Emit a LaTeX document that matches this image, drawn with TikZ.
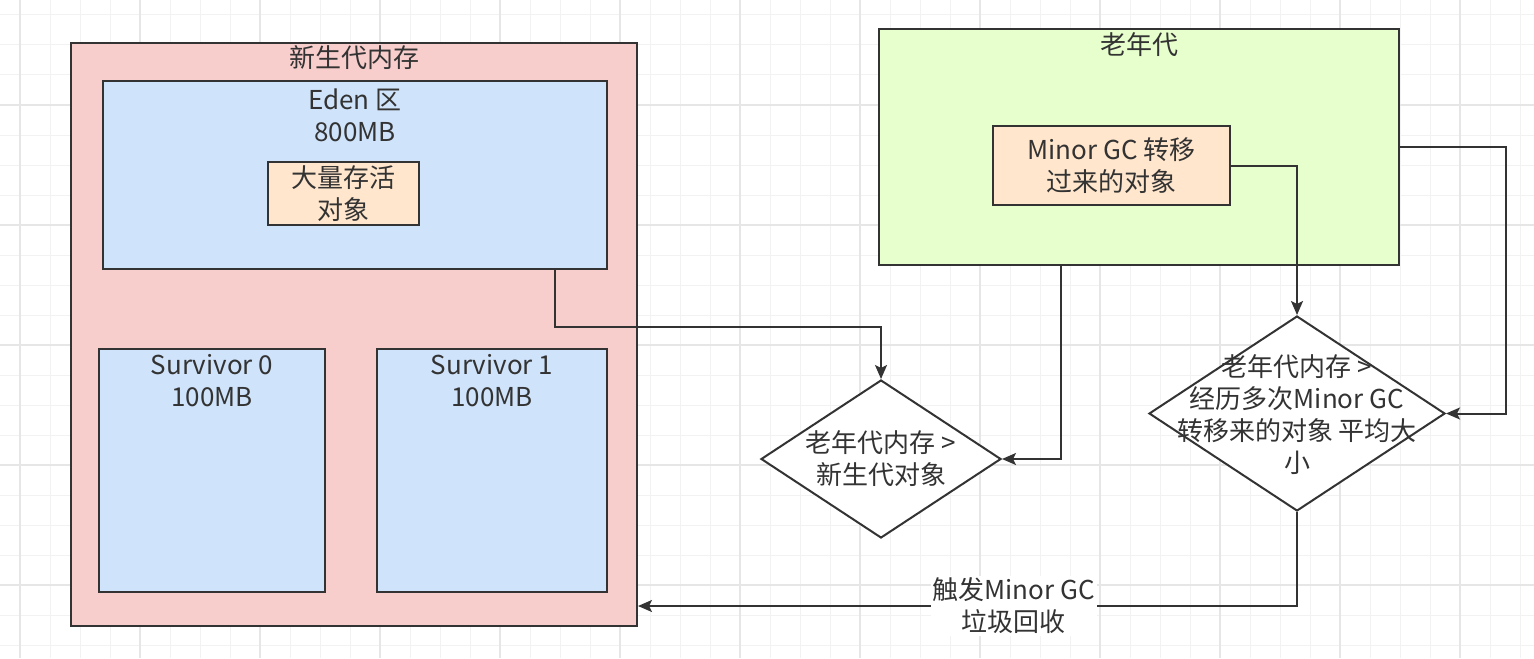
\documentclass[tikz,border=0pt]{standalone}
\usepackage{fontspec}
\setmainfont{Noto Sans CJK SC}
\usetikzlibrary{arrows.meta,shapes.geometric}

\definecolor{youngfill}{HTML}{F8CECC}
\definecolor{edenfill}{HTML}{CFE3FA}
\definecolor{oldfill}{HTML}{E6FFCC}
\definecolor{objfill}{HTML}{FFE6CC}
\definecolor{linegray}{HTML}{333333}
\definecolor{gridminor}{HTML}{F2F2F2}
\definecolor{gridmajor}{HTML}{E6E6E6}

\tikzset{
  area/.style={draw=linegray, line width=1pt, inner sep=0pt, text=linegray,
    font=\fontsize{13}{16}\selectfont, align=center},
  txt/.style={text=linegray, font=\fontsize{13}{16}\selectfont, align=center, inner sep=0pt},
  cond/.style={diamond, draw=linegray, fill=white, line width=1pt, inner sep=0pt},
  flow/.style={draw=linegray, line width=1pt, -{Stealth[length=7pt,width=6pt,inset=1.5pt]}},
}

\begin{document}
\begin{tikzpicture}[x=0.5pt, y=-0.5pt]
\useasboundingbox[fill=white] (0,0) rectangle (1534,658);
% background grid
\foreach \x in {20,50,...,1520} \draw[gridminor, line width=0.5pt] (\x,0) -- (\x,658);
\foreach \y in {15,45,...,645} \draw[gridminor, line width=0.5pt] (0,\y) -- (1534,\y);
\foreach \x in {20,140,...,1500} \draw[gridmajor, line width=0.8pt] (\x,0) -- (\x,658);
\foreach \y in {105,225,...,645} \draw[gridmajor, line width=0.8pt] (0,\y) -- (1534,\y);

% young generation
\node[area, fill=youngfill, minimum width=283pt, minimum height=291.5pt] (young) at (354,334.5) {};
\node[txt] at (354,58) {新生代内存};
\node[area, fill=edenfill, minimum width=252pt, minimum height=94pt] (eden) at (355,175) {};
\node[txt] at (355,115) {Eden 区\\800MB};
\node[area, fill=objfill, minimum width=75.5pt, minimum height=31.5pt] (live) at (343.5,193.5) {大量存活\\对象};
\node[area, fill=edenfill, minimum width=113pt, minimum height=121.5pt] (s0) at (212,470.5) {};
\node[txt] at (212,381) {Survivor 0\\100MB};
\node[area, fill=edenfill, minimum width=115pt, minimum height=121.5pt] (s1) at (492,470.5) {};
\node[txt] at (492,381) {Survivor 1\\100MB};

% old generation
\node[area, fill=oldfill, minimum width=260pt, minimum height=118pt] (old) at (1139,147) {};
\node[txt] at (1139,45) {老年代};
\node[area, fill=objfill, minimum width=118.5pt, minimum height=39.5pt] (mgc) at (1111.5,165.5) {Minor GC 转移\\过来的对象};

% checks
\node[cond, minimum width=120pt, minimum height=79pt] (d1) at (881,459) {};
\node[txt] at (d1.center) {老年代内存 >\\新生代对象};
\node[cond, minimum width=148pt, minimum height=97.5pt] (d2) at (1297,413.5) {};
\node[txt] at (1297,415) {老年代内存 >\\经历多次Minor GC\\转移来的对象 平均大\\小};

% connectors
\draw[flow] ([xshift=100pt]eden.south) -- ++(0,57) -| (d1.north);
\draw[flow] ([xshift=-39pt]old.south) |- (d1.east);
\draw[flow] (mgc.east) -| (d2.north);
\draw[flow] (old.east) -- ++(106,0) |- (d2.east);
\draw[flow] (d2.south) |- ([yshift=-135.75pt]young.east)
  node[txt, pos=0.715, fill=white, inner sep=1pt] {触发Minor GC\\垃圾回收};
\end{tikzpicture}
\end{document}
